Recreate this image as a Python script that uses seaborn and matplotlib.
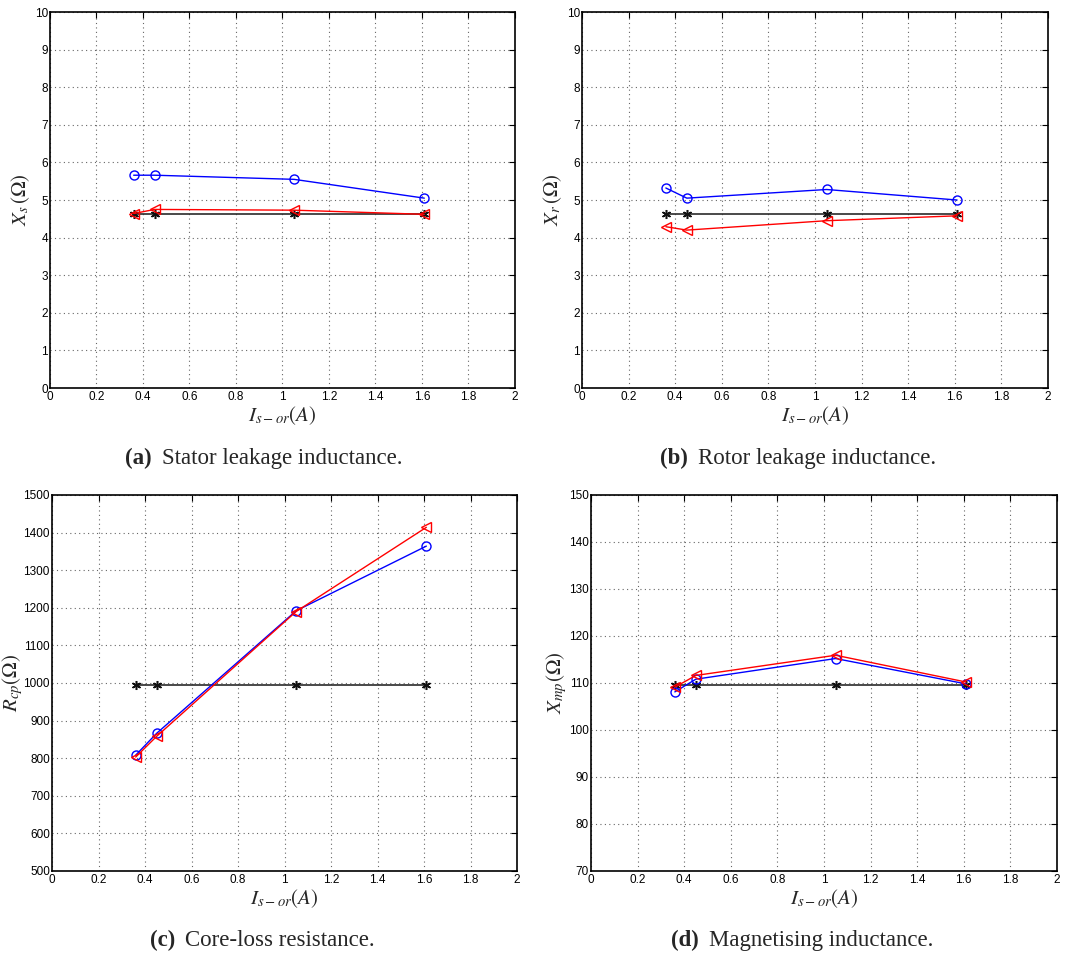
import matplotlib
matplotlib.use("Agg")
import matplotlib.pyplot as plt
import seaborn as sns
import numpy as np

# ---- data ----
current = [0.36, 0.45, 1.05, 1.61]

xs_blue = [5.66, 5.66, 5.55, 5.05]
xs_red = [4.64, 4.75, 4.73, 4.62]
xs_black = [4.62, 4.62, 4.62, 4.62]

xr_blue = [5.32, 5.05, 5.28, 5.00]
xr_red = [4.29, 4.20, 4.45, 4.58]
xr_black = [4.62, 4.62, 4.62, 4.62]

rcp_blue = [808, 866, 1192, 1364]
rcp_red = [803, 858, 1190, 1414]
rcp_black = [995, 995, 995, 995]

xmp_blue = [108.1, 110.8, 115.2, 109.8]
xmp_red = [109.1, 111.6, 115.9, 110.2]
xmp_black = [109.5, 109.5, 109.5, 109.5]

x_ticks = [0, 0.2, 0.4, 0.6, 0.8, 1, 1.2, 1.4, 1.6, 1.8, 2]
x_ticklabels = ["0", "0.2", "0.4", "0.6", "0.8", "1", "1.2", "1.4", "1.6", "1.8", "2"]

panels = [
    dict(blue=xs_blue, red=xs_red, black=xs_black, ylim=(0, 10), yticks=list(range(0, 11)),
         ylabel=r"$X_s\,(\Omega)$", caption=("(a)", "Stator leakage inductance."),
         rect=[0.0467, 0.5937, 0.4346, 0.3937], cap=(264, 458), ylab_x=-0.064),
    dict(blue=xr_blue, red=xr_red, black=xr_black, ylim=(0, 10), yticks=list(range(0, 11)),
         ylabel=r"$X_r\,(\Omega)$", caption=("(b)", "Rotor leakage inductance."),
         rect=[0.5439, 0.5937, 0.4355, 0.3937], cap=(798, 458), ylab_x=-0.063),
    dict(blue=rcp_blue, red=rcp_red, black=rcp_black, ylim=(500, 1500), yticks=list(range(500, 1501, 100)),
         ylabel=r"$R_{cp}(\Omega)$", caption=("(c)", "Core-loss resistance."),
         rect=[0.0486, 0.0880, 0.4346, 0.3937], cap=(262, 940), ylab_x=-0.084),
    dict(blue=xmp_blue, red=xmp_red, black=xmp_black, ylim=(70, 150), yticks=list(range(70, 151, 10)),
         ylabel=r"$X_{mp}(\Omega)$", caption=("(d)", "Magnetising inductance."),
         rect=[0.5523, 0.0880, 0.4355, 0.3937], cap=(802, 940), ylab_x=-0.074),
]

sns.set_theme(style="white")
plt.rcParams["font.family"] = ["Liberation Sans", "DejaVu Sans"]
plt.rcParams["mathtext.fontset"] = "stix"

W, H = 1070, 955
fig = plt.figure(figsize=(W / 100, H / 100), dpi=100)
renderer = fig.canvas.get_renderer()
serif = ["Liberation Serif", "DejaVu Serif"]
asterisk = (6, 2, 0)

for p in panels:
    ax = fig.add_axes(p["rect"])
    sns.lineplot(x=current, y=p["black"], ax=ax, color="#2a2a2a", marker=asterisk, markersize=6.5,
                 markeredgewidth=1.1, markeredgecolor="#111111",
                 linewidth=1.2, sort=False, estimator=None, zorder=3)
    sns.lineplot(x=current, y=p["blue"], ax=ax, color="blue", marker="o", markersize=6.5,
                 markerfacecolor="none", markeredgecolor="blue", markeredgewidth=1.0,
                 linewidth=1.0, sort=False, estimator=None, zorder=4)
    sns.lineplot(x=current, y=p["red"], ax=ax, color="red", marker="<", markersize=6.5,
                 markerfacecolor="none", markeredgecolor="red", markeredgewidth=1.0,
                 linewidth=1.0, sort=False, estimator=None, zorder=5)
    ax.set_xlim(0, 2)
    ax.set_ylim(*p["ylim"])
    ax.set_xticks(x_ticks)
    ax.set_xticklabels(x_ticklabels)
    ax.set_yticks(p["yticks"])
    ax.set_yticklabels([str(v) for v in p["yticks"]])
    ax.tick_params(direction="in", top=True, right=True, length=4, width=0.8,
                   labelsize=8.5, colors="black", pad=2)
    ax.tick_params(axis="y", pad=1.5)
    ax.grid(True, linestyle=(0, (1, 3)), color="#666666", linewidth=0.8)
    for s in ax.spines.values():
        s.set_color("black")
        s.set_linewidth(1.2)
    ax.set_xlabel(r"$I_{s-or}(A)$", fontsize=15, labelpad=1)
    ax.set_ylabel(p["ylabel"], fontsize=15, va="center")
    ax.yaxis.set_label_coords(p["ylab_x"], 0.5)

    # caption: bold tag + regular text, centred as a whole
    tag, txt = p["caption"]
    cx, cy = p["cap"]
    t1 = fig.text(0, 1 - cy / H, tag, ha="left", va="center", fontsize=16.5,
                  family=serif, fontweight="bold")
    t2 = fig.text(0, 1 - cy / H, txt, ha="left", va="center", fontsize=16.5, family=serif)
    w1 = t1.get_window_extent(renderer).width
    w2 = t2.get_window_extent(renderer).width
    gap = 10
    total = w1 + gap + w2
    x0 = cx - total / 2
    t1.set_x(x0 / W)
    t2.set_x((x0 + w1 + gap) / W)

fig.savefig("out.png", dpi=100)
